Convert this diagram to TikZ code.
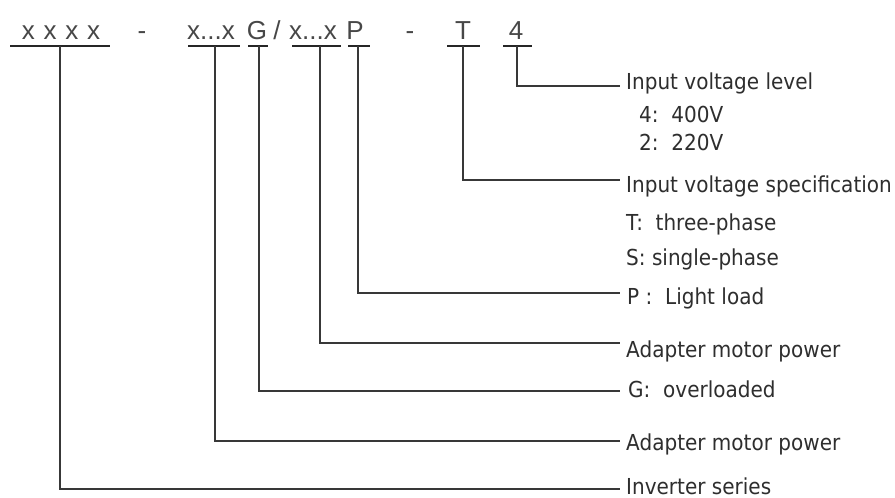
\documentclass[tikz,border=0pt]{standalone}
\usepackage{fontspec}
\setmainfont{Liberation Sans}
\newfontfamily\lblfont[FakeStretch=0.91]{DejaVu Sans}
\begin{document}
\begin{tikzpicture}[x=1pt,y=-1pt,
  tok/.style={anchor=base, inner sep=0pt, font=\fontsize{26}{26}\selectfont, text=black!72},
  lbl/.style={anchor=base west, inner sep=0pt, font=\lblfont\fontsize{22}{22}\selectfont, text=black!82},
  ul/.style={line width=2pt, black!85},
  conn/.style={line width=1.8pt, black!78}]
\useasboundingbox (0,0) rectangle (895,498);
\fill[white] (0,0) rectangle (895,498);
% top row tokens
\node[tok] (t1) at (61,39) {x\hspace{1.5pt} x\hspace{1.5pt} x\hspace{1.5pt} x};
\node[tok] (d1) at (142,39) {-};
\node[tok] (t2) at (211,39) {x...x};
\node[tok] (t3) at (257,39) {G};
\node[tok] (sl) at (277,39) {/};
\node[tok] (t4) at (313,39) {x...x};
\node[tok] (t5) at (355,39) {P};
\node[tok] (d2) at (410,39) {-};
\node[tok] (t6) at (463,39) {T};
\node[tok] (t7) at (516,39) {4};
% underlines
\draw[ul] (10,46) -- (110,46);  \coordinate (u1) at (60,46);
\draw[ul] (188,46) -- (240,46); \coordinate (u2) at (215,46);
\draw[ul] (248,46) -- (268,46); \coordinate (u3) at (259,46);
\draw[ul] (292,46) -- (341,46); \coordinate (u4) at (320,46);
\draw[ul] (348,46) -- (370,46); \coordinate (u5) at (358,46);
\draw[ul] (447,46) -- (480,46); \coordinate (u6) at (463,46);
\draw[ul] (503,46) -- (532,46); \coordinate (u7) at (517,46);
% connector ends
\coordinate (e7) at (620,86);
\coordinate (e6) at (620,180);
\coordinate (e5) at (620,293);
\coordinate (e4) at (620,343);
\coordinate (e3) at (620,391);
\coordinate (e2) at (620,441);
\coordinate (e1) at (620,489);
\draw[conn] (u7) |- (e7);
\draw[conn] (u6) |- (e6);
\draw[conn] (u5) |- (e5);
\draw[conn] (u4) |- (e4);
\draw[conn] (u3) |- (e3);
\draw[conn] (u2) |- (e2);
\draw[conn] (u1) |- (e1);
% labels
\node[lbl] (l7) at (626,89) {Input voltage level};
\node[lbl] (l7a) at (639,122) {4:\ \ 400V};
\node[lbl] (l7b) at (639,150) {2:\ \ 220V};
\node[lbl] (l6) at (626,192) {Input voltage specification};
\node[lbl] (l6a) at (626,230) {T:\ \ three-phase};
\node[lbl] (l6b) at (626,265) {S: single-phase};
\node[lbl] (l5) at (627,304) {P :\ \ Light load};
\node[lbl] (l4) at (626,357) {Adapter motor power};
\node[lbl] (l3) at (628,397) {G:\ \ overloaded};
\node[lbl] (l2) at (626,450) {Adapter motor power};
\node[lbl] (l1) at (626,494) {Inverter series};
\end{tikzpicture}
\end{document}
